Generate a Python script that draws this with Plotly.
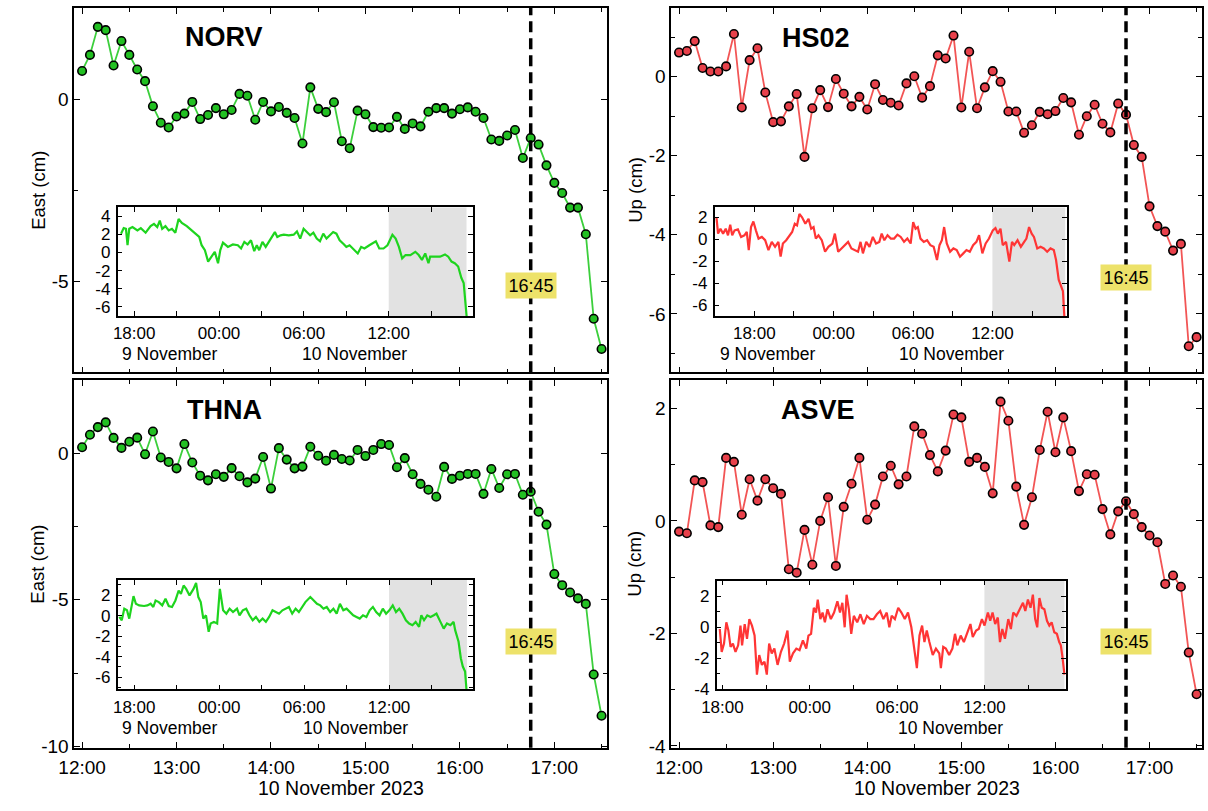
import pandas as pd
import plotly.graph_objects as go

# ---------------- data ----------------
MAIN_START = "2023-11-10 12:00"
EVENT_TIME = "2023-11-10 16:45"
INSET_BASE = "2023-11-09 00:00"        # inset times are hours after this
SHADE_START_H = 36.0                    # 12:00, 10 November
SHADE_END_H = 41.5                      # 17:30, 10 November

stations = ["NORV", "HS02", "THNA", "ASVE"]
components = ["East (cm)", "Up (cm)", "East (cm)", "Up (cm)"]

norv_east = [0.77, 1.21, 1.98, 1.89, 0.92, 1.59, 1.21, 0.81, 0.49, -0.20,
             -0.65, -0.78, -0.48, -0.40, -0.08, -0.55, -0.44, -0.25, -0.42, -0.30,
             0.14, 0.09, -0.57, -0.08, -0.34, -0.22, -0.38, -0.52, -1.22, 0.32,
             -0.27, -0.36, -0.09, -1.16, -1.35, -0.32, -0.42, -0.77, -0.79, -0.78,
             -0.49, -0.82, -0.67, -0.75, -0.35, -0.25, -0.25, -0.40, -0.28, -0.23,
             -0.35, -0.52, -1.11, -1.15, -1.00, -0.85, -1.62, -1.07, -1.25, -1.82,
             -2.30, -2.58, -2.98, -2.98, -3.71, -6.03, -6.86]
hs02_up = [0.61, 0.65, 0.90, 0.22, 0.13, 0.13, 0.26, 1.08, -0.78, 0.42,
           0.72, -0.40, -1.15, -1.13, -0.75, -0.44, -2.03, -0.80, -0.34, -0.77,
           -0.06, -0.43, -0.75, -0.51, -0.83, -0.19, -0.59, -0.66, -0.73, -0.17,
           0.01, -0.53, -0.24, 0.54, 0.46, 1.04, -0.78, 0.63, -0.80, -0.27,
           0.14, -0.13, -0.88, -0.88, -1.42, -1.23, -0.89, -0.95, -0.87, -0.54,
           -0.65, -1.47, -1.00, -0.71, -1.19, -1.41, -0.68, -0.96, -1.73, -2.03,
           -3.28, -3.78, -3.92, -4.40, -4.23, -6.82, -6.59]
thna_east = [0.21, 0.64, 0.90, 1.06, 0.53, 0.19, 0.40, 0.54, -0.03, 0.75,
             -0.14, -0.29, -0.51, 0.32, -0.31, -0.76, -0.92, -0.71, -0.80, -0.50,
             -0.78, -0.99, -0.86, -0.12, -1.20, 0.18, -0.21, -0.51, -0.45, 0.23,
             -0.08, -0.25, -0.05, -0.19, -0.24, 0.12, -0.09, 0.12, 0.32, 0.29,
             -0.47, -0.16, -0.71, -1.04, -1.24, -1.48, -0.46, -0.87, -0.76, -0.70,
             -0.70, -1.38, -0.53, -1.18, -0.71, -0.70, -1.41, -1.31, -1.99, -2.43,
             -4.12, -4.50, -4.75, -4.95, -5.14, -7.55, -8.96]
asve_up = [-0.19, -0.22, 0.72, 0.69, -0.08, -0.11, 1.12, 1.05, 0.11, 0.74,
           0.36, 0.74, 0.58, 0.48, -0.86, -0.92, -0.16, -0.78, 0.00, 0.42,
           -0.80, 0.25, 0.66, 1.12, 0.02, 0.29, 0.79, 0.98, 0.65, 0.79,
           1.68, 1.55, 1.17, 0.88, 1.25, 1.89, 1.84, 1.05, 1.12, 0.96,
           0.49, 2.12, 1.78, 0.61, -0.07, 0.42, 1.26, 1.94, 1.22, 1.84,
           1.24, 0.53, 0.83, 0.82, 0.21, -0.24, 0.17, 0.35, 0.12, -0.11,
           -0.26, -0.38, -1.12, -0.97, -1.17, -2.34, -3.08]

# insets: hours after 9 Nov 00:00, and displacement (cm)
norv_inset_h = [17.07, 17.26, 17.42, 17.53, 17.65, 17.88, 18.23, 18.47, 18.81, 18.93,
                19.16, 19.40, 19.63, 19.81, 19.98, 20.21, 20.44, 20.67, 20.91, 21.14,
                21.37, 21.72, 22.07, 22.37, 22.60, 22.77, 23.00, 23.23, 23.47, 23.70,
                23.93, 24.09, 24.28, 24.63, 24.98, 25.33, 25.56, 25.79, 26.02, 26.26,
                26.49, 26.67, 26.84, 27.07, 27.30, 27.53, 27.77, 27.95, 28.12, 28.35,
                28.58, 28.93, 29.28, 29.51, 29.74, 29.98, 30.21, 30.44, 30.67, 30.91,
                31.14, 31.37, 31.60, 31.84, 32.07, 32.30, 32.53, 32.77, 33.00, 33.23,
                33.58, 33.81, 34.05, 34.28, 34.63, 34.86, 35.09, 35.33, 35.63, 35.91,
                36.26, 36.49, 36.72, 36.95, 37.19, 37.53, 37.88, 38.12, 38.35, 38.58,
                38.81, 38.93, 39.28, 39.63, 39.98, 40.21, 40.44, 40.67, 40.91, 41.14,
                41.30, 41.44, 41.53]
norv_inset_v = [2.06, 2.67, 2.60, 0.79, 2.60, 2.78, 2.42, 2.67, 2.17, 2.42,
                2.89, 3.14, 2.78, 3.50, 2.60, 2.89, 2.42, 2.60, 2.17, 3.68,
                3.25, 2.89, 2.42, 2.06, 1.70, 0.79, 0.25, -1.01, -0.47, 0.07,
                -1.19, 0.25, 1.08, 0.61, 0.87, 0.79, 0.43, 1.16, 0.87, 1.34,
                0.14, 0.79, 0.25, 1.16, 0.61, 1.16, 1.70, 2.24, 1.70, 1.88,
                1.95, 1.88, 1.95, 2.31, 1.52, 2.60, 2.24, 1.88, 2.17, 1.52,
                1.23, 2.06, 1.52, 1.88, 2.24, 2.06, 1.34, 0.97, 0.61, 0.79,
                0.25, -0.11, 0.61, 0.43, 0.79, 0.97, 1.23, 0.43, 0.43, 0.79,
                1.95, 1.52, 0.61, -0.65, -0.29, -0.29, 0.07, -0.29, -0.83, -0.11,
                -1.19, -0.47, -0.47, -0.47, -0.22, -0.47, -1.01, -1.19, -1.55, -2.82,
                -3.36, -5.34, -7.40]

hs02_inset_h = [15.14, 15.26, 15.44, 15.64, 15.84, 16.01, 16.18, 16.33, 16.51, 16.76,
                17.00, 17.25, 17.43, 17.58, 17.75, 17.93, 18.12, 18.32, 18.57, 18.82,
                19.07, 19.32, 19.57, 19.82, 19.99, 20.16, 20.41, 20.66, 20.86, 21.06,
                21.23, 21.41, 21.61, 21.86, 22.10, 22.30, 22.48, 22.65, 22.85, 23.10,
                23.35, 23.60, 23.90, 24.09, 24.34, 24.59, 24.84, 25.09, 25.34, 25.59,
                25.84, 26.03, 26.21, 26.46, 26.71, 26.96, 27.20, 27.45, 27.63, 27.83,
                28.07, 28.32, 28.57, 28.82, 29.07, 29.32, 29.57, 29.82, 30.01, 30.19,
                30.36, 30.56, 30.81, 31.06, 31.31, 31.56, 31.81, 32.00, 32.18, 32.35,
                32.55, 32.80, 33.05, 33.30, 33.55, 33.80, 34.04, 34.29, 34.54, 34.79,
                34.99, 35.24, 35.49, 35.74, 36.03, 36.23, 36.41, 36.61, 36.78, 37.03,
                37.28, 37.48, 37.65, 37.90, 38.15, 38.40, 38.57, 38.77, 38.97, 39.14,
                39.39, 39.64, 39.89, 40.14, 40.39, 40.64, 40.81, 41.01, 41.21, 41.33,
                41.45]
hs02_inset_v = [2.00, 0.51, 0.96, 0.51, 0.96, 0.36, 1.32, 0.36, 0.81, 0.90,
                0.21, 0.36, 0.66, -0.99, 1.11, 1.62, 0.81, 0.06, 0.21, -0.09,
                -0.99, -0.24, -0.69, -0.24, -1.59, -0.39, -0.09, 0.36, 0.66, 1.41,
                1.26, 2.31, 2.00, 1.41, 1.86, 0.96, 1.11, 0.06, 0.36, -0.09,
                -1.14, -0.69, -0.39, 0.51, -1.14, -0.84, -0.54, -0.24, -0.84, -0.99,
                -1.14, -0.24, -1.29, -0.24, -0.69, 0.21, -0.39, -0.24, 0.51, -0.09,
                0.36, 0.06, 0.06, 0.42, 0.21, -0.24, 0.06, -0.39, 1.56, 0.96,
                1.11, 0.06, -0.24, -0.09, -0.54, -0.69, -1.89, -0.54, -0.09, 1.11,
                -0.39, -1.14, -0.84, -0.99, -1.59, -1.29, -0.99, -1.14, -0.54, -0.24,
                0.36, -1.29, -0.39, 0.06, 0.81, 1.02, 0.51, 0.96, -0.54, -0.24,
                -2.04, -0.24, -0.54, -0.09, -0.69, -0.24, 0.06, 1.11, 0.51, 0.21,
                -0.84, -0.69, -0.84, -1.14, -0.84, -0.99, -1.89, -3.68, -4.28, -4.73,
                -7.30]

thna_inset_h = [16.95, 17.12, 17.30, 17.49, 17.65, 17.81, 17.95, 18.12, 18.35, 18.70,
                18.93, 19.16, 19.35, 19.51, 19.74, 19.98, 20.21, 20.44, 20.67, 20.91,
                21.14, 21.30, 21.49, 21.67, 21.91, 22.19, 22.37, 22.53, 22.70, 22.88,
                23.07, 23.26, 23.40, 23.63, 23.86, 24.05, 24.28, 24.51, 24.74, 24.98,
                25.26, 25.44, 25.67, 25.91, 26.14, 26.37, 26.60, 26.84, 27.07, 27.30,
                27.53, 27.77, 28.00, 28.23, 28.47, 28.70, 28.93, 29.16, 29.40, 29.63,
                29.86, 30.09, 30.44, 30.67, 30.91, 31.14, 31.37, 31.60, 31.84, 32.07,
                32.30, 32.53, 32.77, 33.00, 33.23, 33.47, 33.70, 33.93, 34.16, 34.40,
                34.63, 34.86, 35.09, 35.33, 35.56, 35.79, 36.02, 36.26, 36.49, 36.72,
                36.95, 37.19, 37.42, 37.65, 37.88, 38.12, 38.28, 38.47, 38.70, 38.93,
                39.16, 39.35, 39.63, 39.86, 40.09, 40.33, 40.56, 40.67, 40.91, 41.07,
                41.21, 41.37, 41.49]
thna_inset_v = [-0.13, -0.45, 0.68, 0.52, -0.29, 0.84, 1.90, 1.16, 1.00, 0.94,
                1.00, 1.16, 0.84, 1.48, 1.32, 1.00, 1.65, 0.94, 0.84, 1.48,
                2.45, 2.13, 2.94, 2.61, 1.97, 2.61, 3.19, 1.81, 1.32, -0.29,
                0.03, -1.58, -0.77, -0.61, -0.77, 2.61, 0.52, 0.19, 0.68, 0.35,
                0.68, 0.03, 0.52, 0.68, 0.03, -0.45, -0.13, -0.61, -0.29, -0.61,
                -0.13, 0.52, 0.35, 0.19, 0.52, 0.68, 0.84, 0.19, 0.68, 0.35,
                0.84, 1.32, 1.81, 1.48, 1.16, 1.00, 0.68, 0.84, 0.35, 0.68,
                0.19, 1.16, 0.52, 0.68, 0.35, 0.03, -0.13, -0.29, 0.03, -0.13,
                0.52, 0.84, 0.35, 0.03, 0.68, 0.19, 0.52, 1.00, 0.35, 0.68,
                0.19, -0.45, -0.77, -0.94, -0.61, -1.10, 0.03, -0.45, 0.03, -0.13,
                0.03, 0.19, -0.61, -1.26, -0.77, -0.94, -0.61, -1.42, -2.55, -4.16,
                -4.97, -5.45, -7.60]

asve_inset_h = [17.82, 17.95, 18.11, 18.27, 18.41, 18.56, 18.72, 18.90, 19.08, 19.24,
                19.35, 19.53, 19.69, 19.85, 20.03, 20.21, 20.37, 20.53, 20.71, 20.89,
                21.05, 21.21, 21.39, 21.57, 21.79, 22.02, 22.24, 22.47, 22.63, 22.85,
                23.08, 23.30, 23.53, 23.76, 23.91, 24.09, 24.28, 24.43, 24.55, 24.73,
                24.88, 25.04, 25.22, 25.45, 25.67, 25.90, 26.08, 26.24, 26.40, 26.53,
                26.69, 26.85, 27.03, 27.26, 27.48, 27.71, 27.93, 28.16, 28.38, 28.61,
                28.84, 29.06, 29.29, 29.47, 29.63, 29.85, 30.08, 30.30, 30.53, 30.75,
                30.98, 31.21, 31.36, 31.54, 31.72, 31.88, 32.04, 32.22, 32.45, 32.67,
                32.90, 33.01, 33.17, 33.35, 33.58, 33.80, 33.98, 34.14, 34.37, 34.59,
                34.82, 35.04, 35.20, 35.43, 35.61, 35.83, 36.01, 36.24, 36.40, 36.56,
                36.74, 36.92, 37.07, 37.23, 37.41, 37.64, 37.82, 37.98, 38.20, 38.43,
                38.65, 38.81, 38.99, 39.17, 39.33, 39.49, 39.63, 39.78, 39.94, 40.12,
                40.30, 40.46, 40.62, 40.80, 40.98, 41.14, 41.25, 41.36, 41.50]
asve_inset_v = [-0.11, -1.58, -1.05, 0.32, -0.21, -1.26, -1.05, -1.58, -1.16, 0.11,
                -1.16, 0.21, -0.74, 0.53, 0.11, -0.53, -3.05, -1.79, -2.42, -2.21,
                -3.05, -1.05, -1.68, -1.37, -2.42, -1.58, -1.05, -0.21, -2.21, -1.68,
                -1.37, -1.47, -0.84, -1.37, -0.53, -0.42, 1.26, 0.95, 1.79, 0.53,
                0.95, 0.32, 1.16, 0.53, 0.95, 1.68, 0.95, 1.58, 0.00, 2.10,
                1.16, -0.42, 0.74, 0.32, 0.84, 0.21, 0.74, 0.53, 0.53, 0.84,
                1.05, 0.53, 0.95, 0.00, 0.74, 0.53, 1.26, 0.95, 0.53, 0.95,
                0.00, -1.58, -2.63, -0.53, 0.11, -0.95, -0.21, -0.95, -1.79, -1.37,
                -1.68, -2.63, -1.26, -1.37, -1.79, -1.37, -0.42, -1.16, -0.53, -0.95,
                -0.32, 0.21, -0.63, -0.21, -0.11, 0.53, 0.11, 0.95, 0.42, 0.95,
                0.21, 0.63, -0.95, -0.11, -0.74, 0.53, -0.11, 0.95, 0.74, 1.16,
                1.58, 1.05, 1.79, 1.26, 2.10, 0.53, 0.00, 1.89, 1.26, 1.16,
                0.42, 0.11, 0.32, -0.32, -0.42, -0.95, -1.16, -1.89, -3.05]

# main y-axis ticks
norv_ticks = [0, -5]
hs02_ticks = [0, -2, -4, -6]
thna_ticks = [0, -5, -10]
asve_ticks = [2, 0, -2, -4]
inset_x_ticklabels = ["18:00", "00:00", "06:00", "12:00", "18:00"]

# ---------------- layout / style ----------------
W, H = 1208, 811
FONT = "Liberation Sans, Arial, sans-serif"
GREEN_LINE = "#3ccf3c"
GREEN_FILL = "#22c022"
GREEN_INSET = "#1ed41e"
RED_LINE = "#f25555"
RED_FILL = "#e8414b"
RED_INSET = "#ff3535"
BOX_YELLOW = "#ede26a"
SHADE = "#e2e2e2"


def xd(a, b):
    return [a / W, b / W]


def yd(top, bottom):
    return [1 - bottom / H, 1 - top / H]


def hours_to_time(h):
    return pd.Timestamp(INSET_BASE) + pd.to_timedelta(h, unit="h")


def hlist(hs):
    return [hours_to_time(h) for h in hs]


def sfx(n):
    return "" if n == 1 else str(n)


panels = [
    dict(name="NORV", vals=norv_east, line=GREEN_LINE, fill=GREEN_FILL, inset_col=GREEN_INSET,
         px=(59, 599), py=(8, 377), yr=[-7.5, 2.5], ticks=norv_ticks, minor=2.5,
         ipx=(103, 463), ipy=(210, 320), ixr=(16.83, 41.95), iyr=[-7.0, 4.95],
         ih=norv_inset_h, iv=norv_inset_v, iticks=[4, 2, 0, -2, -4, -6], iminor=None,
         label_xy=(211, 37), box_y=289, title=components[0], title_x=22,
         dates=[("9 November", 20.5), ("10 November", 33.6)], date_y=358, bottom=False),
    dict(name="HS02", vals=hs02_up, line=RED_LINE, fill=RED_FILL, inset_col=RED_INSET,
         px=(664, 1202), py=(8, 377), yr=[-7.48, 1.74], ticks=hs02_ticks, minor=1,
         ipx=(708, 1065), ipy=(210, 320), ixr=(15.0, 41.63), iyr=[-7.0, 2.9],
         ih=hs02_inset_h, iv=hs02_inset_v, iticks=[2, 0, -2, -4, -6], iminor=None,
         label_xy=(811, 38), box_y=281, title=components[1], title_x=627,
         dates=[("9 November", 18.97), ("10 November", 32.9)], date_y=358, bottom=False),
    dict(name="THNA", vals=thna_east, line=GREEN_LINE, fill=GREEN_FILL, inset_col=GREEN_INSET,
         px=(59, 599), py=(385, 757), yr=[-10.05, 2.5], ticks=thna_ticks, minor=2.5,
         ipx=(103, 463), ipy=(587, 698), ixr=(16.83, 41.92), iyr=[-7.2, 3.5],
         ih=thna_inset_h, iv=thna_inset_v, iticks=[2, 0, -2, -4, -6], iminor=1,
         label_xy=(211, 415), box_y=650, title=components[2], title_x=22,
         dates=[("9 November", 20.5), ("10 November", 33.6)], date_y=737, bottom=True),
    dict(name="ASVE", vals=asve_up, line=RED_LINE, fill=RED_FILL, inset_col=RED_INSET,
         px=(664, 1202), py=(385, 757), yr=[-4.03, 2.5], ticks=asve_ticks, minor=1,
         ipx=(710, 1064), ipy=(588, 698), ixr=(17.6, 41.6), iyr=[-4.0, 3.0],
         ih=asve_inset_h, iv=asve_inset_v, iticks=[2, 0, -2, -4], iminor=1,
         label_xy=(813, 415), box_y=650, title=components[3], title_x=627,
         dates=[("10 November", 33.7)], date_y=737, bottom=True),
]

fig = go.Figure()
layout = {}
shapes = []
annotations = []

main_x_range = ["2023-11-10 11:55:00", "2023-11-10 17:33:30"]

for i, p in enumerate(panels):
    k = sfx(i + 1)          # main axis suffix
    j = sfx(i + 5)          # inset axis suffix
    times = pd.date_range(MAIN_START, periods=len(p["vals"]), freq="5min")

    # inset shading
    shapes.append(dict(type="rect", xref=f"x{j}", yref=f"y{j} domain",
                       x0=hours_to_time(SHADE_START_H), x1=hours_to_time(SHADE_END_H),
                       y0=0, y1=1, fillcolor=SHADE, line=dict(width=0), layer="below"))

    # main trace
    fig.add_trace(go.Scatter(
        x=times, y=p["vals"], mode="lines+markers", xaxis=f"x{k}", yaxis=f"y{k}",
        line=dict(color=p["line"], width=1.8),
        marker=dict(size=8.5, color=p["fill"], line=dict(color="black", width=1.6)),
        showlegend=False, cliponaxis=False))

    # inset trace
    fig.add_trace(go.Scatter(
        x=hlist(p["ih"]), y=p["iv"], mode="lines", xaxis=f"x{j}", yaxis=f"y{j}",
        line=dict(color=p["inset_col"], width=2.2), showlegend=False))

    axis_common = dict(showline=True, linecolor="black", linewidth=1.5, mirror="ticks",
                       ticks="inside", tickcolor="black", showgrid=False, zeroline=False)

    # main x axis
    layout[f"xaxis{k}"] = dict(
        axis_common, type="date", domain=xd(*p["px"]), anchor=f"y{k}",
        range=main_x_range, tickformat="%H:%M", dtick=3600000, tick0=MAIN_START,
        ticklen=6, tickwidth=1.2, ticklabelstandoff=2,
        minor=dict(dtick=1800000, ticks="inside", ticklen=4, tickcolor="black", tickwidth=1.2),
        showticklabels=p["bottom"], tickfont=dict(size=19, color="black", family=FONT))
    # main y axis
    lo, hi = p["yr"]
    minor_vals = []
    v = 0.0
    while v >= lo:
        minor_vals.append(v)
        v -= p["minor"]
    v = p["minor"]
    while v <= hi:
        minor_vals.append(v)
        v += p["minor"]
    layout[f"yaxis{k}"] = dict(
        axis_common, domain=yd(*p["py"]), anchor=f"x{k}", range=p["yr"],
        tickmode="array", tickvals=p["ticks"], ticktext=[str(t) for t in p["ticks"]],
        ticklen=6, tickwidth=1.2,
        minor=dict(tickvals=minor_vals, ticks="inside", ticklen=4, tickcolor="black", tickwidth=1.2),
        tickfont=dict(size=19, color="black", family=FONT))

    # inset x axis
    inset_tickvals = [hours_to_time(h) for h in (18, 24, 30, 36, 42)]
    inset_minor = [hours_to_time(h) for h in range(15, 43, 3)]
    layout[f"xaxis{j}"] = dict(
        axis_common, type="date", domain=xd(*p["ipx"]), anchor=f"y{j}",
        range=[hours_to_time(p["ixr"][0]), hours_to_time(p["ixr"][1])],
        tickmode="array", tickvals=inset_tickvals, ticktext=inset_x_ticklabels,
        ticklen=5, tickwidth=1.2, ticklabelstandoff=1,
        minor=dict(tickvals=inset_minor, ticks="inside", ticklen=5, tickcolor="black", tickwidth=1.2),
        tickfont=dict(size=17, color="black", family=FONT))
    # inset y axis
    iy = dict(
        axis_common, domain=yd(*p["ipy"]), anchor=f"x{j}", range=p["iyr"],
        tickmode="array", tickvals=p["iticks"], ticktext=[str(t) for t in p["iticks"]],
        ticklen=5, tickwidth=1.2, ticklabelstandoff=2,
        tickfont=dict(size=17, color="black", family=FONT))
    if p["iminor"]:
        mv = [t for t in range(-7, 4) if p["iyr"][0] <= t <= p["iyr"][1]]
        iy["minor"] = dict(tickvals=mv, ticks="inside", ticklen=4, tickcolor="black", tickwidth=1.2)
    layout[f"yaxis{j}"] = iy

    # event line
    shapes.append(dict(type="line", xref=f"x{k}", yref=f"y{k} domain",
                       x0=EVENT_TIME, x1=EVENT_TIME, y0=0, y1=1,
                       line=dict(color="black", width=3.5, dash="11px,6px")))

    # event box
    annotations.append(dict(x=EVENT_TIME, xref=f"x{k}", y=1 - p["box_y"] / H, yref="paper",
                            text="16:45", showarrow=False, bgcolor=BOX_YELLOW, borderpad=2.5,
                            font=dict(size=18, color="black", family=FONT),
                            xanchor="center", yanchor="middle"))
    # station label
    lx, ly = p["label_xy"]
    annotations.append(dict(x=lx / W, y=1 - ly / H, xref="paper", yref="paper",
                            text=f"<b>{p['name']}</b>", showarrow=False,
                            font=dict(size=27, color="black", family=FONT),
                            xanchor="center", yanchor="middle"))
    # y title
    annotations.append(dict(x=p["title_x"] / W, y=1 - (p["py"][0] + p["py"][1]) / 2 / H,
                            xref="paper", yref="paper", text=p["title"], textangle=-90,
                            showarrow=False, font=dict(size=18.5, color="black", family=FONT),
                            xanchor="center", yanchor="middle"))
    # inset date labels
    for txt, h in p["dates"]:
        annotations.append(dict(x=hours_to_time(h), xref=f"x{j}", y=1 - p["date_y"] / H,
                                yref="paper", text=txt, showarrow=False,
                                font=dict(size=17.5, color="black", family=FONT),
                                xanchor="center", yanchor="middle"))
    # x title
    if p["bottom"]:
        annotations.append(dict(x=(p["px"][0] + p["px"][1]) / 2 / W, y=1 - 798 / H,
                                xref="paper", yref="paper", text="10 November 2023",
                                showarrow=False, font=dict(size=19.5, color="black", family=FONT),
                                xanchor="center", yanchor="middle"))

fig.update_layout(**layout)
fig.update_layout(
    width=W, height=H, margin=dict(l=0, r=0, t=0, b=0),
    paper_bgcolor="white", plot_bgcolor="rgba(0,0,0,0)",
    font=dict(family=FONT, color="black"),
    shapes=shapes, annotations=annotations, showlegend=False)

fig.write_html("out.html", config={"displayModeBar": False},
               post_script="document.body.style.margin='0px';document.body.style.overflow='hidden';")
